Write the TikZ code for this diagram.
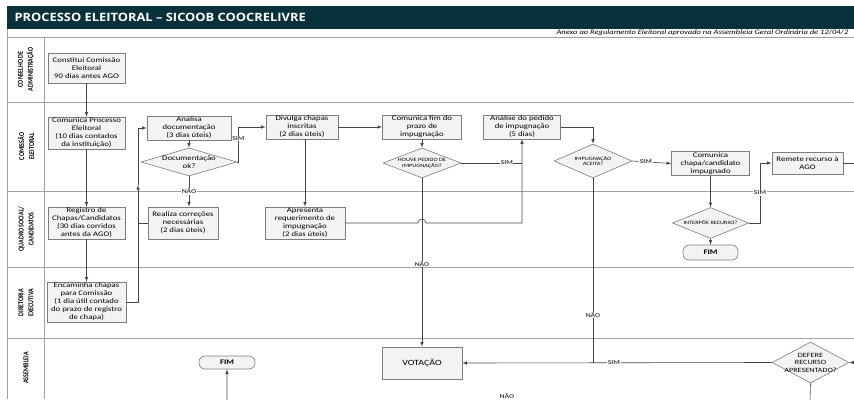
\documentclass[tikz,border=0pt]{standalone}
\usepackage{fontspec}
\setmainfont{Carlito}
\newfontfamily\titlefont[FakeStretch=1.12]{Open Sans}
\newfontfamily\boxfont[FakeStretch=1.25]{Carlito}
\newfontfamily\lanefont[FakeStretch=0.8]{Carlito}
\usetikzlibrary{
  positioning,
  shapes.geometric,
  calc,
  }
\definecolor{titlebar}{RGB}{9,49,60}
\definecolor{boxfill}{RGB}{243,243,243}
\definecolor{boxline}{RGB}{125,125,125}
\definecolor{laneline}{RGB}{160,160,160}
\definecolor{wirecol}{RGB}{70,70,70}

\begin{document}
\begin{tikzpicture}[x=1pt,y=-1pt,>=latex,line width=0.6pt,
    mybox/.style={rectangle, draw=boxline, fill=boxfill, align=center, inner sep=1pt,
      font=\boxfont\fontsize{7}{8}\selectfont},
    mydiam/.style={diamond, aspect=3, draw=boxline, fill=boxfill, align=center, inner sep=-1pt},
    myend/.style={rectangle, rounded corners=6pt, draw=boxline, fill=boxfill,
      font=\boxfont\bfseries\fontsize{7}{8}\selectfont},
    mylane/.style={rotate=90, align=center, font=\lanefont\bfseries\fontsize{7.5}{10}\selectfont},
    mylabel/.style={fill=white, inner sep=0.6pt, font=\boxfont\bfseries\fontsize{6}{7}\selectfont}]
\useasboundingbox (0,0) rectangle (854,399);
\clip (0,0) rectangle (854,399);

% title and lanes
\fill[titlebar] (7,6) rectangle (870,29);
\node[anchor=west, text=white, font=\titlefont\bfseries\fontsize{11.5}{13}\selectfont] (title) at (11,17.5)
  {PROCESSO ELEITORAL – SICOOB COOCRELIVRE};
\node[anchor=east, font=\boxfont\itshape\fontsize{6.8}{8}\selectfont] (note) at (852,33)
  {Anexo ao Regulamento Eleitoral aprovado na Assembleia Geral Ordinária de 12/04/2};
\draw[laneline, line width=0.8pt] (7,29) -- (7,399) (44,37) -- (44,399);
\foreach \y in {37,102,191,267,338}
    \draw[laneline, line width=0.8pt] (7,\y) -- (870,\y);
\node[mylane] (l1) at (26,69.5) {CONSELHO DE\\ADMINISTRAÇÃO};
\node[mylane] (l2) at (26,146.5) {COMISSÃO\\ELEITORAL};
\node[mylane] (l3) at (26,229) {QUADRO SOCIAL/\\CANDIDATOS};
\node[mylane] (l4) at (26,302.5) {DIRETORIA\\EXECUTIVA};
\node[mylane] (l5) at (26,368) {ASSEMBLEIA};

% steps
\node[mybox, minimum width=77, minimum height=30] (n1) at (86.5,68) {Constitui Comissão\\Eleitoral\\90 dias antes AGO};
\node[mybox, minimum width=77, minimum height=32] (n2) at (86.5,133) {Comunica Processo\\Eleitoral\\(10 dias contados\\da instituição)};
\node[mybox, minimum width=84, minimum height=22] (n3) at (189,128) {Analisa\\documentação\\(3 dias úteis)};
\node[mydiam, aspect=3.5, inner sep=-2pt, minimum width=96, minimum height=28, font=\boxfont\fontsize{7}{8}\selectfont] (n4) at (189,162) {Documentação\\ok?};
\node[mybox, minimum width=72, minimum height=22] (n5) at (302,127) {Divulga chapas\\inscritas\\(2 dias úteis)};
\node[mybox, minimum width=79, minimum height=22] (n6) at (422,127) {Comunica fim do\\prazo de\\impugnação};
\node[mydiam, minimum width=78, minimum height=30, font=\boxfont\fontsize{5}{5.8}\selectfont] (n7) at (422,163) {HOUVE PEDIDO DE\\IMPUGNAÇÃO?};
\node[mybox, minimum width=77, minimum height=22] (n8) at (522,127) {Análise do pedido\\de impugnação\\(5 dias)};
\node[mydiam, minimum width=78, minimum height=34, font=\boxfont\fontsize{5}{5.8}\selectfont] (n9) at (593,161) {IMPUGNAÇÃO\\ACEITA?};
\node[mybox, minimum width=78, minimum height=23] (n10) at (710.5,163.5) {Comunica\\chapa/candidato\\impugnado};
\node[mybox, minimum width=71, minimum height=22] (n11) at (807.5,163) {Remete recurso à\\AGO};
\node[mydiam, minimum width=76, minimum height=31, font=\boxfont\fontsize{5}{5.8}\selectfont] (n12) at (710.5,223) {INTERPÕE RECURSO?};
\node[myend, minimum width=55, minimum height=15] (n13) at (710.5,252.5) {FIM};
\node[mybox, minimum width=77, minimum height=32] (n14) at (86.5,223) {Registro de\\Chapas/Candidatos\\(30 dias corridos\\antes da AGO)};
\node[mybox, minimum width=70, minimum height=32] (n15) at (183,223) {Realiza correções\\necessárias\\(2 dias úteis)};
\node[mybox, minimum width=80, minimum height=32] (n16) at (305,223) {Apresenta\\requerimento de\\impugnação\\(2 dias úteis)};
\node[mybox, minimum width=79, minimum height=40] (n17) at (86.5,302) {Encaminha chapas\\para Comissão\\(1 dia útil contado\\do prazo de registro\\de chapa)};
\node[mybox, minimum width=80, minimum height=32, font=\boxfont\fontsize{8}{9}\selectfont] (n18) at (422,363) {VOTAÇÃO};
\node[myend, minimum width=56, minimum height=13] (n19) at (227,362.5) {FIM};
\node[mydiam, aspect=1.9, inner sep=-4pt, minimum width=77, minimum height=41, font=\boxfont\fontsize{6.5}{7.5}\selectfont] (n20) at (810.5,362.5) {DEFERE\\RECURSO\\APRESENTADO?};

% bends
\coordinate (c1) at (138,185);
\coordinate (c2) at (760,223);
\coordinate (c3) at (870,163);
\coordinate (c4) at (810,401);

% connectors
\foreach \from\to in {n1/n2,n2/n14,n14/n17,n3/n4,n5/n6,n6/n7,n10/n12,n12/n13}
    \draw[wirecol,->] (\from) -- (\to);
\draw[wirecol,->] (n17.east) -| (c1);
\draw[wirecol,->] (c1) |- (n3.west);
\draw[wirecol] (n15.west) -- (n15.west -| c1);
\draw[wirecol,->] (n4.south) -- node[mylabel]{NÃO} (n4.south |- n15.north);
\draw[wirecol,->] (n4.east) -- ++(1,0) |- node[mylabel, pos=0.33]{SIM} (n5.west);
\draw[wirecol,->] (n16.north |- n5.south) -- (n16.north);
\draw[wirecol] (n7.east) -- node[mylabel, pos=0.75]{SIM} (n8.south |- n7.east);
\draw[wirecol,->] (n16.east) -- ($(n7.south |- n16.east)+(-4,0)$) arc[start angle=180, end angle=0, radius=4pt] -| (n8.south);
\draw[wirecol,->] (n7.south) -- node[mylabel, pos=0.51]{NÃO} (n18.north);
\draw[wirecol,->] (n8.east) -| (n9.north);
\draw[wirecol,->] (n9.east) -- node[mylabel, pos=0.35]{SIM} (n10.west);
\draw[wirecol] (n9.south) -- node[mylabel, pos=0.74]{NÃO} (n9.south |- n20.west);
\draw[wirecol,->] (n12.east) -- (c2) |- node[mylabel, pos=0.25]{SIM} (n11.west);
\draw[wirecol,->] (n11.east) -- (c3) |- (n20.east);
\draw[wirecol,->] (n20.west) -- node[mylabel, pos=0.51]{SIM} (n18.east);
\draw[wirecol,->] (n20.south) -- (c4) -| node[mylabel, pos=0.26, anchor=south, yshift=2pt]{NÃO} (n19.south);
\end{tikzpicture}
\end{document}
